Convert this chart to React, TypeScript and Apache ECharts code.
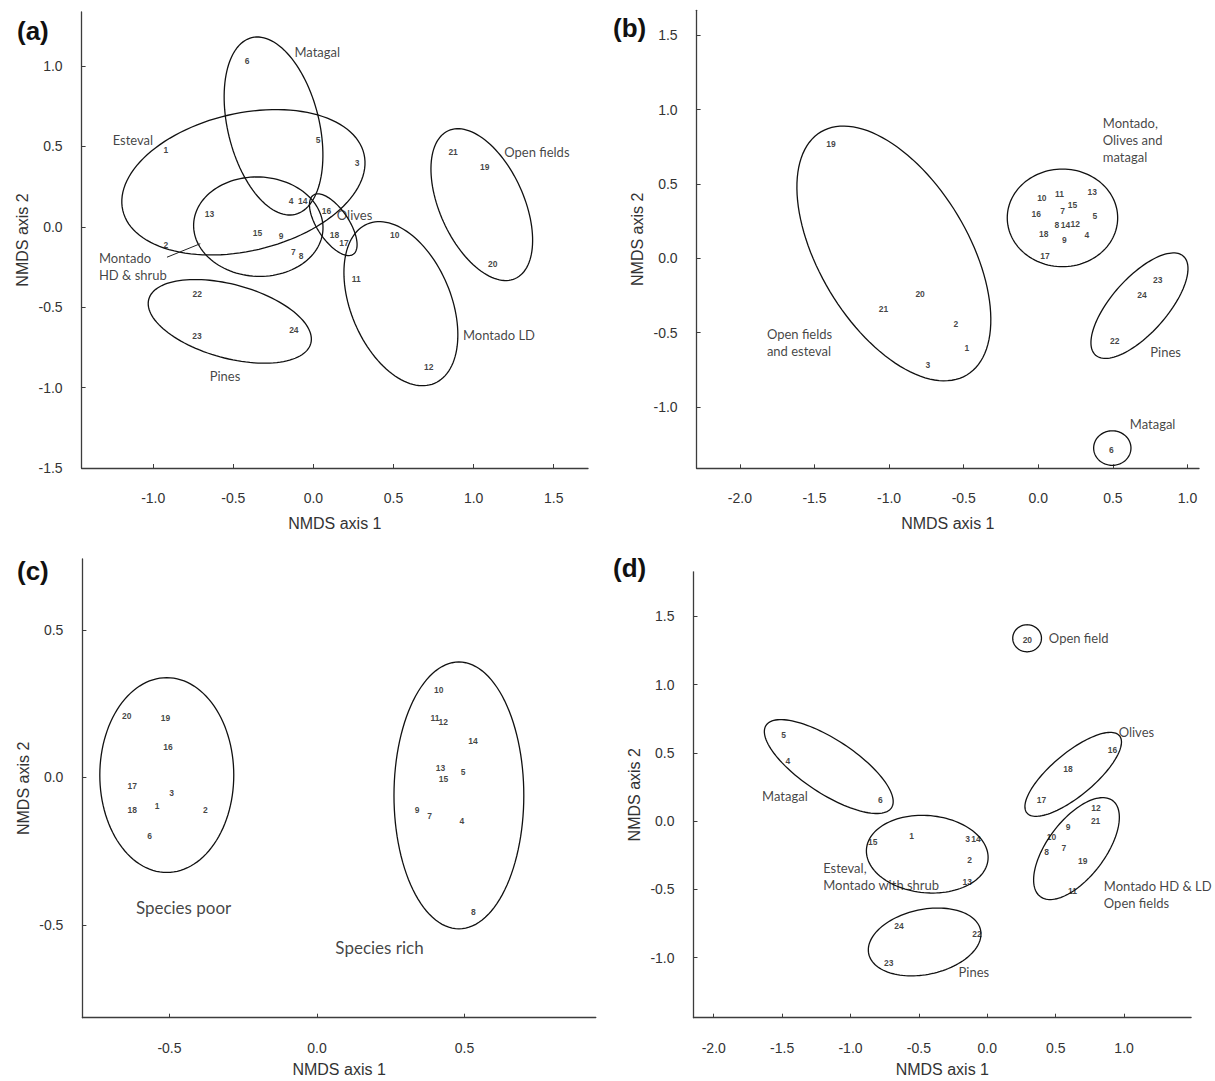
import { useEffect, useRef } from "react";
import * as echarts from "echarts";

// ---------- axis ranges and tick values ----------
const rangeAX = [-1.447, 1.714];
const rangeAY = [-1.5, 1.336];
const rangeBX = [-2.29, 1.077];
const rangeBY = [-1.411, 1.667];
const rangeCX = [-0.795, 0.945];
const rangeCY = [-0.814, 0.74];
const rangeDX = [-2.148, 1.49];
const rangeDY = [-1.44, 1.827];

const ticksAX = [-1.0, -0.5, 0, 0.5, 1.0, 1.5];
const ticksAY = [-1.5, -1.0, -0.5, 0, 0.5, 1.0];
const ticksBX = [-2.0, -1.5, -1.0, -0.5, 0, 0.5, 1.0];
const ticksBY = [-1.0, -0.5, 0, 0.5, 1.0, 1.5];
const ticksCX = [-0.5, 0, 0.5];
const ticksCY = [-0.5, 0, 0.5];
const ticksDX = [-2.0, -1.5, -1.0, -0.5, 0, 0.5, 1.0];
const ticksDY = [-1.0, -0.5, 0, 0.5, 1.0, 1.5];

// ---------- site scores [axis1, axis2, site] ----------
const sitesA: [number, number, string][] = [
  [-0.921, 0.478, "1"], [-0.921, -0.114, "2"], [0.273, 0.395, "3"], [-0.139, 0.161, "4"],
  [0.029, 0.541, "5"], [-0.414, 1.032, "6"], [-0.125, -0.155, "7"], [-0.077, -0.182, "8"],
  [-0.201, -0.06, "9"], [0.507, -0.052, "10"], [0.268, -0.326, "11"], [0.72, -0.871, "12"],
  [-0.648, 0.079, "13"], [-0.067, 0.161, "14"], [-0.349, -0.041, "15"], [0.081, 0.101, "16"],
  [0.191, -0.099, "17"], [0.131, -0.053, "18"], [1.069, 0.373, "19"], [1.119, -0.234, "20"],
  [0.872, 0.464, "21"], [-0.725, -0.417, "22"], [-0.727, -0.676, "23"], [-0.122, -0.644, "24"],
];
const sitesB: [number, number, string][] = [
  [-0.479, -0.604, "1"], [-0.553, -0.442, "2"], [-0.74, -0.72, "3"], [0.326, 0.158, "4"],
  [0.379, 0.287, "5"], [0.49, -1.285, "6"], [0.163, 0.317, "7"], [0.124, 0.227, "8"],
  [0.174, 0.121, "9"], [0.024, 0.403, "10"], [0.142, 0.433, "11"], [0.247, 0.234, "12"],
  [0.361, 0.444, "13"], [0.182, 0.227, "14"], [0.229, 0.359, "15"], [-0.013, 0.299, "16"],
  [0.045, 0.019, "17"], [0.037, 0.165, "18"], [-1.39, 0.767, "19"], [-0.792, -0.24, "20"],
  [-1.037, -0.34, "21"], [0.513, -0.553, "22"], [0.8, -0.146, "23"], [0.695, -0.245, "24"],
];
const sitesC: [number, number, string][] = [
  [-0.645, 0.208, "20"], [-0.513, 0.2, "19"], [-0.505, 0.103, "16"], [-0.626, -0.03, "17"],
  [-0.493, -0.053, "3"], [-0.542, -0.097, "1"], [-0.626, -0.112, "18"], [-0.378, -0.111, "2"],
  [-0.567, -0.198, "6"], [0.413, 0.296, "10"], [0.4, 0.201, "11"], [0.428, 0.189, "12"],
  [0.529, 0.124, "14"], [0.419, 0.033, "13"], [0.495, 0.019, "5"], [0.429, -0.004, "15"],
  [0.339, -0.11, "9"], [0.382, -0.129, "7"], [0.491, -0.146, "4"], [0.53, -0.457, "8"],
];
const sitesD: [number, number, string][] = [
  [0.293, 1.327, "20"], [-1.489, 0.633, "5"], [-1.458, 0.441, "4"], [-0.781, 0.157, "6"],
  [0.915, 0.524, "16"], [0.59, 0.385, "18"], [0.396, 0.152, "17"], [0.794, 0.099, "12"],
  [0.792, 0.002, "21"], [0.59, -0.041, "9"], [0.47, -0.117, "10"], [0.559, -0.2, "7"],
  [0.433, -0.223, "8"], [0.697, -0.289, "19"], [0.622, -0.509, "11"], [-0.554, -0.106, "1"],
  [-0.144, -0.132, "3"], [-0.083, -0.132, "14"], [-0.838, -0.152, "15"], [-0.129, -0.284, "2"],
  [-0.146, -0.446, "13"], [-0.645, -0.767, "24"], [-0.075, -0.826, "22"], [-0.72, -1.036, "23"],
];

// ---------- group ellipses [centre x, centre y, semi-major, semi-minor, angle deg] ----------
const ellipsesA: number[][] = [
  [-0.249, 0.627, 0.566, 0.285, 103.9], // Matagal
  [-0.437, 0.277, 0.773, 0.428, 13.1], // Esteval
  [-0.344, 0.001, 0.404, 0.309, -2.4], // Montado HD & shrub
  [0.124, 0.013, 0.222, 0.098, 124.1], // Olives
  [0.546, -0.478, 0.538, 0.312, 112.9], // Montado LD
  [1.051, 0.138, 0.505, 0.262, 114.5], // Open fields
  [-0.522, -0.588, 0.524, 0.229, -15.2], // Pines
];
const ellipsesB: number[][] = [
  [-0.968, 0.033, 0.952, 0.499, 120.9],
  [0.162, 0.272, 0.37, 0.328, 0],
  [0.678, -0.318, 0.444, 0.185, 48.5],
  [0.496, -1.275, 0.125, 0.116, 0],
];
const ellipsesC: number[][] = [
  [-0.509, 0.008, 0.33, 0.227, 90],
  [0.481, -0.061, 0.452, 0.22, 90],
];
const ellipsesD: number[][] = [
  [0.291, 1.34, 0.105, 0.099, 0],
  [-1.159, 0.4, 0.549, 0.197, -33.4],
  [0.628, 0.343, 0.441, 0.157, 39.9],
  [0.652, -0.201, 0.44, 0.21, 53],
  [-0.439, -0.242, 0.446, 0.283, -5.1],
  [-0.458, -0.885, 0.418, 0.238, 12],
];

// ---------- group names [x, y, text, align] ----------
const groupsA: [number, number, string, string][] = [
  [0.024, 1.085, "Matagal", "center"],
  [-1.127, 0.541, "Esteval", "center"],
  [1.191, 0.464, "Open fields", "left"],
  [0.257, 0.072, "Olives", "center"],
  [-1.339, -0.249, "Montado\nHD & shrub", "left"],
  [1.158, -0.672, "Montado LD", "center"],
  [-0.552, -0.93, "Pines", "center"],
];
const groupsB: [number, number, string, string][] = [
  [0.432, 0.797, "Montado,\nOlives and\nmatagal", "left"],
  [-1.819, -0.567, "Open fields\nand esteval", "left"],
  [0.853, -0.627, "Pines", "center"],
  [0.766, -1.113, "Matagal", "center"],
];
const groupsC: [number, number, string, string][] = [
  [-0.452, -0.442, "Species poor", "center"],
  [0.212, -0.577, "Species rich", "center"],
];
const groupsD: [number, number, string, string][] = [
  [0.45, 1.34, "Open field", "left"],
  [1.09, 0.651, "Olives", "center"],
  [-1.48, 0.182, "Matagal", "center"],
  [-1.2, -0.402, "Esteval,\nMontado with shrub", "left"],
  [0.852, -0.535, "Montado HD & LD\nOpen fields", "left"],
  [-0.098, -1.105, "Pines", "center"],
];

// pointer from "Montado HD & shrub" label in panel (a)
const pointerA = [
  [-0.914, -0.189],
  [-0.706, -0.105],
];

const panelLetters = ["(a)", "(b)", "(c)", "(d)"];

// ---------- layout ----------
const grids = [
  { left: 81.6, top: 12, width: 506.4, height: 456 },
  { left: 696.6, top: 10.3, width: 502.4, height: 458 },
  { left: 82.4, top: 559, width: 513.4, height: 458.7 },
  { left: 693.5, top: 571.8, width: 497.6, height: 445.9 },
];
const xNameGaps = [47, 47, 44, 44];
const letterPos = [
  [17, 31],
  [613, 28],
  [17, 571],
  [613, 568],
];
const groupFont = [13, 13, 17, 13];

const AXIS_COLOR = "#3c3c3c";
const LABEL_FONT = "'Liberation Sans', Arial, sans-serif";
const TEXT_FONT = "Lato, 'Open Sans', sans-serif";

function makeX(i: number, range: number[], ticks: number[]) {
  return {
    type: "value",
    gridIndex: i,
    min: range[0],
    max: range[1],
    name: "NMDS axis 1",
    nameLocation: "middle",
    nameGap: xNameGaps[i],
    nameTextStyle: { fontSize: 16, color: "#333", fontFamily: LABEL_FONT },
    axisLine: { show: true, onZero: false, lineStyle: { color: AXIS_COLOR, width: 1.3 } },
    axisTick: { show: true, inside: true, length: 4, customValues: ticks, lineStyle: { color: AXIS_COLOR, width: 1 } },
    axisLabel: {
      show: true,
      customValues: ticks,
      formatter: (v: number) => v.toFixed(1),
      fontSize: 14,
      color: "#333",
      margin: 23,
      fontFamily: LABEL_FONT,
    },
    splitLine: { show: false },
  };
}
function makeY(i: number, range: number[], ticks: number[]) {
  return {
    type: "value",
    gridIndex: i,
    min: range[0],
    max: range[1],
    name: "NMDS axis 2",
    nameLocation: "middle",
    nameGap: 51,
    nameTextStyle: { fontSize: 16, color: "#333", fontFamily: LABEL_FONT },
    axisLine: { show: true, onZero: false, lineStyle: { color: AXIS_COLOR, width: 1.3 } },
    axisTick: { show: true, inside: true, length: 4, customValues: ticks, lineStyle: { color: AXIS_COLOR, width: 1 } },
    axisLabel: {
      show: true,
      customValues: ticks,
      formatter: (v: number) => v.toFixed(1),
      fontSize: 14,
      color: "#333",
      margin: 19,
      fontFamily: LABEL_FONT,
    },
    splitLine: { show: false },
  };
}

function ellipseSeries(i: number, list: number[][]) {
  return {
    type: "custom",
    xAxisIndex: i,
    yAxisIndex: i,
    silent: true,
    data: list,
    renderItem: (params: any, api: any) => {
      const e = list[params.dataIndex];
      const [cx, cy, a, b, deg] = e;
      const r = (deg * Math.PI) / 180;
      const pts: number[][] = [];
      const n = 120;
      for (let k = 0; k < n; k++) {
        const t = (k / n) * Math.PI * 2;
        const dx = a * Math.cos(t) * Math.cos(r) - b * Math.sin(t) * Math.sin(r);
        const dy = a * Math.cos(t) * Math.sin(r) + b * Math.sin(t) * Math.cos(r);
        pts.push(api.coord([cx + dx, cy + dy]));
      }
      return {
        type: "polygon",
        shape: { points: pts },
        style: { fill: "none", stroke: "#111", lineWidth: 1.3 },
      };
    },
  };
}

function siteSeries(i: number, list: [number, number, string][]) {
  return {
    type: "scatter",
    xAxisIndex: i,
    yAxisIndex: i,
    silent: true,
    symbol: "circle",
    symbolSize: 1,
    itemStyle: { color: "rgba(0,0,0,0)" },
    data: list.map((s) => ({ value: [s[0], s[1]], name: s[2] })),
    label: {
      show: true,
      position: "inside",
      formatter: "{b}",
      fontSize: 8.5,
      fontWeight: "bold",
      color: "#111",
      fontFamily: LABEL_FONT,
    },
  };
}

function groupSeries(i: number, list: [number, number, string, string][]) {
  const fs = groupFont[i];
  return {
    type: "scatter",
    xAxisIndex: i,
    yAxisIndex: i,
    silent: true,
    symbol: "circle",
    symbolSize: 1,
    itemStyle: { color: "rgba(0,0,0,0)" },
    data: list.map((g) => ({
      value: [g[0], g[1]],
      name: g[2],
      label: { align: g[3] },
    })),
    label: {
      show: true,
      position: "inside",
      formatter: "{b}",
      fontSize: fs,
      lineHeight: Math.round(fs * 1.33),
      color: "#111",
      fontFamily: TEXT_FONT,
    },
  };
}

export default function App() {
  const ref = useRef<HTMLDivElement>(null);
  useEffect(() => {
    if (!ref.current) return;
    const chart = echarts.init(ref.current, null, { renderer: "svg" });
    const option: any = {
      animation: false,
      backgroundColor: "#fff",
      grid: grids.map((g) => ({ ...g, containLabel: false, outerBoundsMode: "none" })),
      xAxis: [
        makeX(0, rangeAX, ticksAX),
        makeX(1, rangeBX, ticksBX),
        makeX(2, rangeCX, ticksCX),
        makeX(3, rangeDX, ticksDX),
      ],
      yAxis: [
        makeY(0, rangeAY, ticksAY),
        makeY(1, rangeBY, ticksBY),
        makeY(2, rangeCY, ticksCY),
        makeY(3, rangeDY, ticksDY),
      ],
      graphic: panelLetters.map((t, i) => ({
        type: "text",
        x: letterPos[i][0],
        y: letterPos[i][1],
        style: {
          text: t,
          font: "bold 26px 'Liberation Sans', Arial, sans-serif",
          fill: "#111",
          verticalAlign: "middle",
        },
      })),
      series: [
        ellipseSeries(0, ellipsesA),
        ellipseSeries(1, ellipsesB),
        ellipseSeries(2, ellipsesC),
        ellipseSeries(3, ellipsesD),
        siteSeries(0, sitesA),
        siteSeries(1, sitesB),
        siteSeries(2, sitesC),
        siteSeries(3, sitesD),
        groupSeries(0, groupsA),
        groupSeries(1, groupsB),
        groupSeries(2, groupsC),
        groupSeries(3, groupsD),
        {
          type: "line",
          xAxisIndex: 0,
          yAxisIndex: 0,
          silent: true,
          symbol: "none",
          data: pointerA,
          lineStyle: { color: "#222", width: 1 },
        },
      ],
    };
    chart.setOption(option);
    return () => chart.dispose();
  }, []);
  return (
    <div
      ref={ref}
      style={{ position: "absolute", left: 0, top: 0, width: 1215, height: 1081 }}
    />
  );
}
